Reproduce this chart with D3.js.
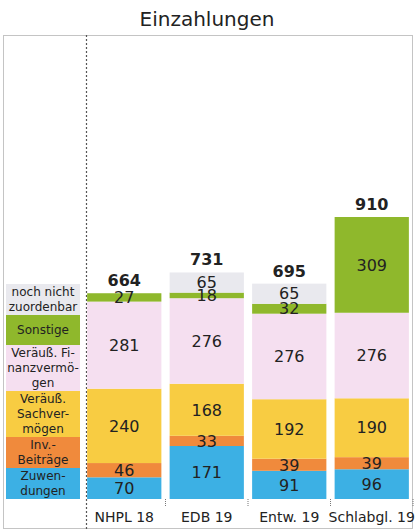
<!DOCTYPE html>
<html>
<head>
<meta charset="utf-8">
<script src="https://cdn.jsdelivr.net/npm/d3@7"></script>
<style>
  body { margin: 0; background: #fff; }
  text { font-family: "DejaVu Sans", sans-serif; fill: #222; }
</style>
</head>
<body>
<script>
// data, bottom to top
const categories = ["NHPL 18", "EDB 19", "Entw. 19", "Schlabgl. 19"];
const seriesNames = ["Zuwendungen", "Inv.-Beiträge", "Veräuß. Sachvermögen",
  "Veräuß. Finanzvermögen", "Sonstige", "noch nicht zuordenbar"];
const zuwendungen = [70, 171, 91, 96];
const invBeitraege = [46, 33, 39, 39];
const sachvermoegen = [240, 168, 192, 190];
const finanzvermoegen = [281, 276, 276, 276];
const sonstige = [27, 18, 32, 309];
const nichtZuordenbar = [0, 65, 65, 0];
const totals = [664, 731, 695, 910];
const legendLines = [
  ["Zuwen-", "dungen"],
  ["Inv.-", "Beiträge"],
  ["Veräuß.", "Sachver-", "mögen"],
  ["Veräuß. Fi-", "nanzvermö-", "gen"],
  ["Sonstige"],
  ["noch nicht", "zuordenbar"]
];
const colors = ["#3cb0e4", "#f08a3c", "#f8cc42", "#f5dff0", "#8fb82c", "#e9e9ee"];

const width = 415, height = 531;
const svg = d3.select("body").append("svg")
  .attr("width", width).attr("height", height);

const seriesValues = [zuwendungen, invBeitraege, sachvermoegen, finanzvermoegen, sonstige, nichtZuordenbar];
const rows = categories.map((c, i) => {
  const r = { cat: c };
  seriesNames.forEach((s, j) => (r[s] = seriesValues[j][i]));
  return r;
});
const stacked = d3.stack().keys(seriesNames)(rows);

const x = d3.scaleBand().domain(categories).range([83, 413])
  .paddingInner(0.1).paddingOuter(0.05);
const y = d3.scaleLinear().domain([0, 910]).range([499, 217]);

// title
svg.append("text").attr("x", 207).attr("y", 26).attr("text-anchor", "middle")
  .style("font-size", "20px").text("Einzahlungen");

// frame
svg.append("rect").attr("x", 3.5).attr("y", 35.5).attr("width", 409).attr("height", 493)
  .attr("fill", "none").attr("stroke", "#888").attr("stroke-width", 1)
  .attr("stroke-dasharray", "1,1");
svg.append("line").attr("x1", 86.5).attr("x2", 86.5).attr("y1", 35).attr("y2", 529)
  .attr("stroke", "#555").attr("stroke-width", 1.2).attr("stroke-dasharray", "2,2");

// bars
const layer = svg.append("g").selectAll("g").data(stacked).join("g")
  .attr("fill", (d, i) => colors[i]);
layer.selectAll("rect").data(d => d).join("rect")
  .attr("x", d => x(d.data.cat))
  .attr("width", x.bandwidth())
  .attr("y", d => y(d[1]))
  .attr("height", d => y(d[0]) - y(d[1]));

// segment labels
const labels = svg.append("g");
stacked.forEach(s => {
  s.forEach(d => {
    const v = d[1] - d[0];
    if (!v) return;
    labels.append("text")
      .attr("x", x(d.data.cat) + x.bandwidth() / 2)
      .attr("y", (y(d[0]) + y(d[1])) / 2)
      .attr("dy", "0.36em")
      .attr("text-anchor", "middle")
      .style("font-size", "16px")
      .text(v);
  });
});

// totals
svg.append("g").selectAll("text").data(categories).join("text")
  .attr("x", d => x(d) + x.bandwidth() / 2)
  .attr("y", (d, i) => y(totals[i]) - 7)
  .attr("text-anchor", "middle")
  .style("font-size", "16px").style("font-weight", "bold")
  .text((d, i) => totals[i]);

// category axis
const axis = svg.append("g").attr("transform", `translate(0,${y(0)})`)
  .call(d3.axisBottom(x).tickSize(0).tickPadding(13));
axis.select(".domain").remove();
axis.selectAll("text").style("font-size", "14px").attr("fill", "#222");
svg.append("g").selectAll("line").data(categories).join("line")
  .attr("x1", d => x(d) + x.bandwidth() + x.step() * 0.05)
  .attr("x2", d => x(d) + x.bandwidth() + x.step() * 0.05)
  .attr("y1", y(0)).attr("y2", y(0) + 7)
  .attr("stroke", "#777").attr("stroke-dasharray", "1,1");

// legend column
let ly = y(0);
const legend = svg.append("g");
seriesNames.forEach((s, i) => {
  const lines = legendLines[i];
  const h = Math.max(30, lines.length * 15 + 1);
  ly -= h;
  legend.append("rect").attr("x", 6).attr("y", ly).attr("width", 74).attr("height", h)
    .attr("fill", colors[i]);
  const t = legend.append("text").attr("text-anchor", "middle")
    .style("font-size", "12px");
  lines.forEach((l, k) => {
    t.append("tspan").attr("x", 43)
      .attr("y", ly + h / 2 + (k - (lines.length - 1) / 2) * 15)
      .attr("dy", "0.36em").text(l);
  });
});
</script>
</body>
</html>
